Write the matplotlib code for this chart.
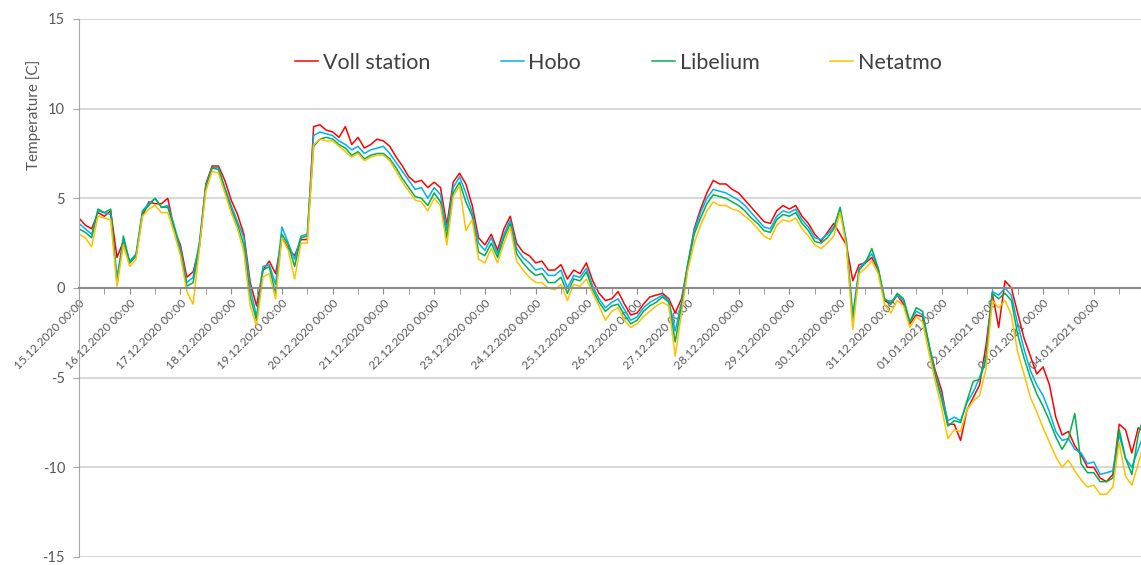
import numpy as np
import matplotlib.pyplot as plt
from matplotlib.ticker import MultipleLocator

plt.rcParams['font.family'] = ['Lato', 'DejaVu Sans']
plt.rcParams['axes.unicode_minus'] = False

# readings every 3 hours starting 15.12.2020 00:00
step_hours = 3

voll = [3.9, 3.5, 3.3, 4.2, 4.0, 4.3, 1.7, 2.6,
        1.4, 1.8, 4.0, 4.8, 4.7, 4.7, 5.0, 3.3,
        2.4, 0.6, 0.9, 2.3, 5.8, 6.8, 6.8, 6.0,
        4.9, 4.1, 3.0, 0.3, -1.0, 1.0, 1.5, 0.8,
        2.8, 2.2, 1.8, 2.7, 2.7, 9.0, 9.1, 8.8,
        8.7, 8.4, 9.0, 8.0, 8.4, 7.8, 8.0, 8.3,
        8.2, 7.9, 7.3, 6.8, 6.2, 5.9, 6.0, 5.6,
        5.9, 5.6, 3.5, 5.9, 6.4, 5.8, 4.6, 2.8,
        2.4, 3.0, 2.1, 3.3, 4.0, 2.5, 2.0, 1.8,
        1.4, 1.5, 1.0, 1.0, 1.3, 0.5, 1.0, 0.8,
        1.4, 0.4, -0.3, -0.7, -0.6, -0.2, -0.9, -1.5,
        -1.4, -0.9, -0.5, -0.4, -0.3, -0.6, -1.4, -0.6,
        1.3, 3.3, 4.4, 5.3, 6.0, 5.8, 5.8, 5.5,
        5.3, 4.9, 4.5, 4.1, 3.7, 3.6, 4.3, 4.6,
        4.4, 4.6, 4.0, 3.6, 3.0, 2.6, 3.1, 3.6,
        3.0, 2.4, 0.4, 1.3, 1.4, 1.7, 1.0, -0.7,
        -0.9, -0.4, -0.9, -2.0, -1.5, -1.6, -3.2, -4.6,
        -5.7, -7.6, -7.6, -8.5, -6.8, -6.1, -5.4, -3.2,
        -0.3, -2.2, 0.4, 0.0, -1.4, -2.8, -3.8, -4.8,
        -4.4, -5.4, -7.2, -8.2, -8.0, -8.8, -9.3, -10.0,
        -10.0, -10.6, -10.8, -10.4, -7.6, -7.9, -9.2, -7.8,
        -8.0]

hobo = [3.6, 3.3, 3.0, 4.3, 4.2, 4.1, 0.6, 2.7,
        1.5, 1.9, 4.3, 4.7, 5.0, 4.5, 4.6, 3.5,
        2.2, 0.3, 0.6, 2.6, 5.7, 6.7, 6.7, 5.6,
        4.6, 3.7, 2.8, 0.0, -1.6, 1.2, 1.3, 0.2,
        3.4, 2.5, 1.6, 2.9, 3.0, 8.5, 8.7, 8.6,
        8.5, 8.2, 8.0, 7.7, 7.9, 7.5, 7.7, 7.8,
        7.9, 7.5, 7.0, 6.5, 6.0, 5.5, 5.6, 5.0,
        5.6, 5.2, 3.2, 5.6, 6.2, 5.3, 4.2, 2.5,
        2.1, 2.8, 1.9, 3.0, 3.8, 2.2, 1.7, 1.4,
        1.0, 1.1, 0.7, 0.7, 1.0, 0.0, 0.7, 0.6,
        1.1, 0.1, -0.6, -1.1, -0.8, -0.6, -1.2, -1.8,
        -1.6, -1.1, -0.8, -0.6, -0.4, -0.7, -2.4, -0.8,
        1.4, 3.2, 4.2, 5.0, 5.5, 5.4, 5.3, 5.1,
        4.9, 4.6, 4.2, 3.8, 3.4, 3.3, 4.0, 4.3,
        4.2, 4.4, 3.8, 3.4, 2.8, 2.7, 3.0, 3.4,
        4.4, 2.6, -1.5, 1.1, 1.5, 1.9, 1.1, -0.6,
        -0.8, -0.4, -0.7, -1.9, -1.3, -1.5, -3.1, -4.8,
        -6.0, -7.4, -7.2, -7.4, -6.4, -5.8, -5.0, -3.8,
        -0.2, -0.4, 0.0, -0.4, -2.0, -3.4, -4.6, -5.4,
        -6.0, -6.9, -8.0, -8.5, -8.4, -9.0, -9.2, -9.8,
        -9.7, -10.4, -10.3, -10.2, -8.2, -9.5, -10.0, -9.0,
        -8.0]

libelium = [3.3, 3.1, 2.8, 4.4, 4.2, 4.4, 0.2, 2.9,
            1.4, 1.8, 4.2, 4.6, 5.0, 4.5, 4.5, 3.4,
            2.0, 0.1, 0.3, 2.4, 5.6, 6.7, 6.6, 5.5,
            4.4, 3.5, 2.4, -0.5, -1.8, 1.0, 1.2, -0.3,
            3.0, 2.4, 1.2, 2.8, 2.9, 7.9, 8.3, 8.4,
            8.3, 8.0, 7.8, 7.4, 7.6, 7.2, 7.4, 7.5,
            7.5, 7.2, 6.7, 6.1, 5.6, 5.1, 5.0, 4.6,
            5.3, 4.8, 2.8, 5.3, 5.9, 4.8, 4.0, 2.0,
            1.8, 2.5, 1.7, 2.8, 3.6, 1.9, 1.4, 1.0,
            0.7, 0.8, 0.3, 0.3, 0.6, -0.3, 0.5, 0.4,
            0.9, -0.1, -0.8, -1.3, -1.0, -0.9, -1.5, -2.0,
            -1.8, -1.3, -1.0, -0.8, -0.5, -0.8, -3.0, -1.0,
            1.3, 3.0, 3.9, 4.7, 5.2, 5.1, 5.0, 4.8,
            4.6, 4.3, 3.9, 3.6, 3.2, 3.1, 3.8, 4.1,
            4.0, 4.2, 3.6, 3.2, 2.6, 2.5, 2.8, 3.3,
            4.5, 2.5, -1.8, 1.0, 1.4, 2.2, 1.1, -0.6,
            -0.9, -0.3, -0.6, -1.9, -1.1, -1.3, -3.2, -4.9,
            -6.2, -7.7, -7.4, -7.5, -6.3, -5.2, -5.1, -4.0,
            -0.3, -0.6, -0.3, -0.7, -2.6, -3.9, -5.0, -5.9,
            -6.6, -7.4, -8.3, -9.0, -8.4, -7.0, -9.8, -10.3,
            -10.3, -10.8, -10.8, -10.6, -7.9, -9.5, -10.4, -8.2,
            -7.0]

netatmo = [3.0, 2.8, 2.3, 4.0, 3.9, 3.8, 0.1, 2.4,
           1.2, 1.6, 4.0, 4.4, 4.6, 4.2, 4.2, 3.1,
           1.8, -0.2, -0.9, 2.2, 5.4, 6.5, 6.4, 5.3,
           4.2, 3.3, 2.0, -1.0, -2.1, 0.6, 0.8, -0.6,
           2.8, 2.1, 0.5, 2.5, 2.5, 8.0, 8.3, 8.2,
           8.2, 7.9, 7.6, 7.3, 7.5, 7.1, 7.3, 7.4,
           7.4, 7.1, 6.5, 5.9, 5.4, 4.9, 4.8, 4.3,
           5.0, 4.6, 2.4, 5.1, 5.7, 3.2, 3.8, 1.6,
           1.4, 2.2, 1.4, 2.5, 3.4, 1.5, 1.0, 0.6,
           0.3, 0.3, 0.0, -0.1, 0.2, -0.7, 0.2, 0.1,
           0.5, -0.3, -1.0, -1.8, -1.3, -1.1, -1.8, -2.2,
           -2.0, -1.6, -1.3, -1.0, -0.8, -1.0, -3.8, -1.4,
           1.0, 2.5, 3.5, 4.3, 4.8, 4.6, 4.6, 4.4,
           4.3, 4.0, 3.7, 3.3, 2.9, 2.7, 3.5, 3.8,
           3.7, 3.9, 3.3, 2.9, 2.4, 2.2, 2.5, 2.9,
           4.2, 2.3, -2.3, 0.8, 1.1, 1.5, 0.8, -0.9,
           -1.4, -0.7, -1.0, -2.2, -1.6, -1.9, -3.6, -5.2,
           -6.7, -8.4, -7.9, -8.0, -6.8, -6.3, -6.0, -4.5,
           -0.7, -1.1, -0.7, -1.5, -3.6, -4.8, -6.1, -6.9,
           -7.8, -8.6, -9.4, -10.0, -9.6, -10.2, -10.7, -11.1,
           -11.0, -11.5, -11.5, -11.1, -8.6, -10.5, -11.0, -9.8,
           -8.5]

series_names = ['Voll station', 'Hobo', 'Libelium', 'Netatmo']
series_colors = ['#FF0000', '#00B0F0', '#00B050', '#FFC000']

day_labels = ['15.12.2020 00:00', '16.12.2020 00:00', '17.12.2020 00:00',
              '18.12.2020 00:00', '19.12.2020 00:00', '20.12.2020 00:00',
              '21.12.2020 00:00', '22.12.2020 00:00', '23.12.2020 00:00',
              '24.12.2020 00:00', '25.12.2020 00:00', '26.12.2020 00:00',
              '27.12.2020 00:00', '28.12.2020 00:00', '29.12.2020 00:00',
              '30.12.2020 00:00', '31.12.2020 00:00', '01.01.2021 00:00',
              '02.01.2021 00:00', '03.01.2021 00:00', '04.01.2021 00:00']

fig = plt.figure(figsize=(11.41, 5.65), dpi=100)
ax = fig.add_axes([0.0692, 0.0142, 0.9308, 0.9522])

t = np.arange(len(voll)) * step_hours / 24.0
for vals, name, col in zip([voll, hobo, libelium, netatmo], series_names, series_colors):
    ax.plot(t, vals, color=col, lw=1.1, label=name)

ax.set_xlim(0, 20.93)
ax.set_ylim(-15, 15)
ax.yaxis.set_major_locator(MultipleLocator(5))
ax.grid(axis='y', color='#D9D9D9', lw=1.5)
ax.set_axisbelow(True)

# x axis sits on y = 0
ax.spines['bottom'].set_position(('data', 0))
ax.spines['bottom'].set_color('#8C8C8C')
ax.spines['bottom'].set_linewidth(1.5)
ax.spines['left'].set_color('#A6A6A6')
ax.spines['top'].set_visible(False)
ax.spines['right'].set_visible(False)

ax.set_xticks(np.arange(len(day_labels)))
ax.set_xticks(np.arange(len(day_labels)) + 0.5, minor=True)
ax.set_xticklabels(day_labels, rotation=45, ha='right', rotation_mode='anchor',
                   fontsize=8.5, color='#595959')
ax.tick_params(axis='x', which='both', direction='out', length=4, color='#8C8C8C', pad=3)
ax.tick_params(axis='y', direction='out', length=4, color='#A6A6A6', labelsize=10.5,
               labelcolor='#595959', pad=6)

ax.set_ylabel('Temperature [C]', fontsize=11, color='#595959')
ax.yaxis.set_label_coords(-0.036, 0.822)

ax.legend(loc='center', bbox_to_anchor=(0.508, 0.919), ncol=4, frameon=False,
          fontsize=15.5, handlelength=1.07, handletextpad=0.2, columnspacing=3.3,
          labelcolor='#404040')

fig.savefig('out.png', dpi=100)
